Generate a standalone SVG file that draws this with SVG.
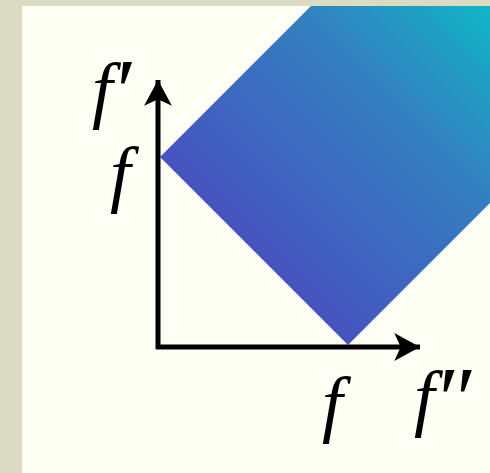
<svg xmlns="http://www.w3.org/2000/svg" width="490" height="473" viewBox="0 0 490 473">
  <defs>
    <linearGradient id="grad" gradientUnits="userSpaceOnUse" x1="254" y1="251" x2="494" y2="11">
      <stop offset="0" stop-color="#4753c0"/>
      <stop offset="0.6" stop-color="#3380c0"/>
      <stop offset="1" stop-color="#10b6c6"/>
    </linearGradient>
    <marker id="arrow" markerUnits="userSpaceOnUse" markerWidth="30" markerHeight="30" viewBox="0 0 26 28" refX="24" refY="14" orient="auto">
      <path d="M0,1 L24,14 L0,27 L6,14 Z" fill="#000"/>
    </marker>
    <style>
      .lbl { font-family: "Liberation Serif", "Times New Roman", serif; font-style: italic; font-size: 74px; fill: #000; }
      .pr { font-style: normal; font-size: 92px; }
      .axis { stroke: #000; stroke-width: 5; fill: none; }
    </style>
  </defs>
  <rect x="0" y="0" width="490" height="473" fill="#dcdcc4"/>
  <rect x="22" y="6" width="468" height="467" fill="#fdfef4"/>
  <g id="region">
    <polygon points="160,157 311,6 490,6 490,203 348,345" fill="url(#grad)"/>
  </g>
  <g id="connectors">
    <path class="axis" d="M158,349 L158,80" marker-end="url(#arrow)"/>
    <path class="axis" d="M156,347 L420,347" marker-end="url(#arrow)"/>
  </g>
  <g id="labels">
    <text class="lbl" x="92" y="114">f<tspan class="pr" dx="4" dy="8">′</tspan></text>
    <text class="lbl" x="110" y="198">f</text>
    <text class="lbl" x="322" y="428">f</text>
    <text class="lbl" x="414" y="422">f<tspan class="pr" dx="4" dy="8">″</tspan></text>
  </g>
</svg>
